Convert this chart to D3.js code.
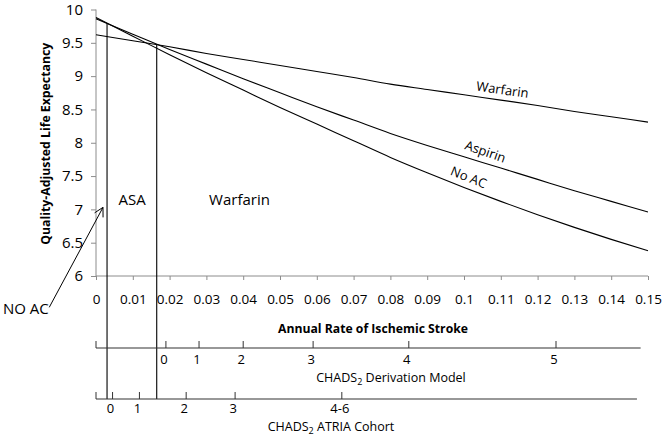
<!DOCTYPE html>
<html>
  <head>
    <script src="https://d3js.org/d3.v7.min.js"></script>
    <style>
      body { margin: 0; background: #fff; }
      text { font-family: "Open Sans", sans-serif; fill: #000; }
    </style>
  </head>
  <body>
    <script>
      // annual stroke rate and quality-adjusted life expectancy for each strategy
      var rates = [0, 0.01, 0.02, 0.03, 0.04, 0.05, 0.06, 0.07, 0.08, 0.09, 0.10, 0.11, 0.12, 0.13, 0.14, 0.15];
      var warfarin = [9.62, 9.53, 9.44, 9.34, 9.25, 9.16, 9.07, 8.98, 8.88, 8.80, 8.72, 8.64, 8.56, 8.47, 8.39, 8.31];
      var aspirin = [9.86, 9.63, 9.40, 9.18, 8.96, 8.75, 8.54, 8.34, 8.14, 7.96, 7.79, 7.62, 7.45, 7.28, 7.12, 6.96];
      var noAC = [9.88, 9.60, 9.32, 9.05, 8.79, 8.53, 8.28, 8.03, 7.78, 7.55, 7.33, 7.12, 6.92, 6.73, 6.55, 6.38];

      var xTicks = [0, 0.01, 0.02, 0.03, 0.04, 0.05, 0.06, 0.07, 0.08, 0.09, 0.1, 0.11, 0.12, 0.13, 0.14, 0.15];
      var yTicks = [6, 6.5, 7, 7.5, 8, 8.5, 9, 9.5, 10];

      // thresholds where the best strategy changes
      var thresholds = [0.003, 0.0165];

      // CHADS2 score -> annual stroke rate
      var derivScores = ["0", "1", "2", "3", "4", "5"];
      var derivRates = [0.019, 0.028, 0.040, 0.059, 0.085, 0.125];
      var atriaScores = ["0", "1", "2", "3", "4-6"];
      var atriaRates = [0.0045, 0.0118, 0.0245, 0.0378, 0.0668];

      var width = 667, height = 437;

      var svg = d3.select("body").append("svg")
                  .attr("width", width).attr("height", height);

      var x = d3.scaleLinear().domain([0, 0.15]).range([96, 648]);
      var y = d3.scaleLinear().domain([6, 10]).range([276, 9.5]);

      function valueAt(series, r) {
        var i = Math.min(Math.floor(r / 0.01), rates.length - 2);
        var t = (r - rates[i]) / (rates[i + 1] - rates[i]);
        return series[i] + t * (series[i + 1] - series[i]);
      }

      //Axes
      var xAxis = svg.append("g")
                     .attr("transform", "translate(0," + y(6) + ")")
                     .call(d3.axisBottom(x).tickValues(xTicks).tickSize(4).tickPadding(14)
                             .tickFormat(function (d) { return +d.toFixed(2); }));
      var yAxis = svg.append("g")
                     .attr("transform", "translate(" + x(0) + ",0)")
                     .call(d3.axisLeft(y).tickValues(yTicks).tickSize(5).tickPadding(8)
                             .tickFormat(function (d) { return d; }));
      [xAxis, yAxis].forEach(function (g) {
        g.selectAll("path, line").attr("stroke", "#8c8c8c");
        g.select(".domain").attr("d", g === xAxis ? "M" + x(0) + ",0H" + x(0.15) : "M0," + y(10) + "V" + y(6));
        g.selectAll("text").attr("font-family", "Open Sans").attr("fill", "#000");
      });
      xAxis.selectAll("text").attr("font-size", "13.5px");
      yAxis.selectAll("text").attr("font-size", "15px");

      svg.append("text")
         .attr("transform", "translate(50," + ((y(6) + y(10)) / 2 + 1) + ") rotate(-90)")
         .attr("text-anchor", "middle")
         .attr("font-weight", "bold")
         .attr("font-size", "13px")
         .attr("textLength", 202)
         .attr("lengthAdjust", "spacingAndGlyphs")
         .text("Quality-Adjusted Life Expectancy");

      svg.append("text")
         .attr("x", 373).attr("y", 333)
         .attr("text-anchor", "middle")
         .attr("font-weight", "bold")
         .attr("font-size", "13px")
         .attr("textLength", 190)
         .attr("lengthAdjust", "spacingAndGlyphs")
         .text("Annual Rate of Ischemic Stroke");

      //Curves
      var line = d3.line()
                   .curve(d3.curveMonotoneX)
                   .x(function (d, i) { return x(rates[i]); })
                   .y(function (d) { return y(d); });
      [warfarin, aspirin, noAC].forEach(function (s) {
        svg.append("path").attr("d", line(s))
           .attr("fill", "none").attr("stroke", "#000").attr("stroke-width", 1.1);
      });

      var curveLabels = [
        { text: "Warfarin", r: 0.1103, dy: -6, angle: 8 },
        { text: "Aspirin", r: 0.1054, dy: -7, angle: 19 },
        { text: "No AC", r: 0.1008, dy: -7, angle: 22 }
      ];
      var curveSeries = [warfarin, aspirin, noAC];
      curveLabels.forEach(function (d, i) {
        svg.append("text")
           .attr("transform", "translate(" + x(d.r) + "," + (y(valueAt(curveSeries[i], d.r)) + d.dy) + ") rotate(" + d.angle + ")")
           .attr("text-anchor", "middle")
           .attr("font-size", "13px")
           .text(d.text);
      });

      //Threshold verticals
      var bottomY = 399;
      svg.append("line")
         .attr("x1", x(thresholds[0])).attr("x2", x(thresholds[0]))
         .attr("y1", y(valueAt(aspirin, thresholds[0]))).attr("y2", bottomY)
         .attr("stroke", "#000").attr("stroke-width", 1.1);
      svg.append("line")
         .attr("x1", x(thresholds[1])).attr("x2", x(thresholds[1]))
         .attr("y1", y(valueAt(warfarin, thresholds[1]))).attr("y2", bottomY)
         .attr("stroke", "#000").attr("stroke-width", 1.1);

      svg.append("text").attr("x", x(0.0098)).attr("y", y(7.14) + 5)
         .attr("text-anchor", "middle").attr("font-size", "15px").text("ASA");
      svg.append("text").attr("x", x(0.039)).attr("y", y(7.14) + 5)
         .attr("text-anchor", "middle").attr("font-size", "15px").text("Warfarin");

      //NO AC arrow
      var tip = [x(0.0019), y(7.03)], tail = [x(-0.0127), y(5.53)];
      svg.append("line")
         .attr("x1", tail[0]).attr("y1", tail[1]).attr("x2", tip[0]).attr("y2", tip[1])
         .attr("stroke", "#000").attr("stroke-width", 1);
      var ang = Math.atan2(tip[1] - tail[1], tip[0] - tail[0]);
      [-0.5, 0.5].forEach(function (a) {
        svg.append("line")
           .attr("x1", tip[0]).attr("y1", tip[1])
           .attr("x2", tip[0] - 10 * Math.cos(ang + a)).attr("y2", tip[1] - 10 * Math.sin(ang + a))
           .attr("stroke", "#000").attr("stroke-width", 1);
      });
      svg.append("text").attr("x", 3).attr("y", 314)
         .attr("font-size", "15px").text("NO AC");

      //CHADS2 scales
      function scoreAxis(lineY, endRate, scores, scoreRates, labelDy) {
        var g = svg.append("g");
        g.append("line").attr("x1", x(0)).attr("x2", x(endRate))
         .attr("y1", lineY).attr("y2", lineY).attr("stroke", "#333").attr("stroke-width", 1.2);
        g.append("line").attr("x1", x(0)).attr("x2", x(0))
         .attr("y1", lineY - 7).attr("y2", lineY).attr("stroke", "#333");
        g.selectAll(".tk").data(scoreRates).enter().append("line")
         .attr("x1", function (d) { return x(d); }).attr("x2", function (d) { return x(d); })
         .attr("y1", lineY - 7).attr("y2", lineY).attr("stroke", "#333");
        g.selectAll(".lb").data(scores).enter().append("text")
         .attr("x", function (d, i) { return x(scoreRates[i]) - 2; })
         .attr("y", lineY + labelDy)
         .attr("text-anchor", "middle").attr("font-size", "13px")
         .text(function (d) { return d; });
      }
      scoreAxis(348, 0.148, derivScores, derivRates, 16);
      scoreAxis(399, 0.147, atriaScores, atriaRates, 14);

      function chadsTitle(cx, cy, rest) {
        var t = svg.append("text").attr("x", cx).attr("y", cy)
                   .attr("text-anchor", "middle").attr("font-size", "12.5px");
        t.append("tspan").text("CHADS");
        t.append("tspan").attr("font-size", "9px").attr("dy", 3).text("2");
        t.append("tspan").attr("dy", -3).text(" " + rest);
      }
      chadsTitle(391, 382, "Derivation Model");
      chadsTitle(331, 431, "ATRIA Cohort");
    </script>
  </body>
</html>
